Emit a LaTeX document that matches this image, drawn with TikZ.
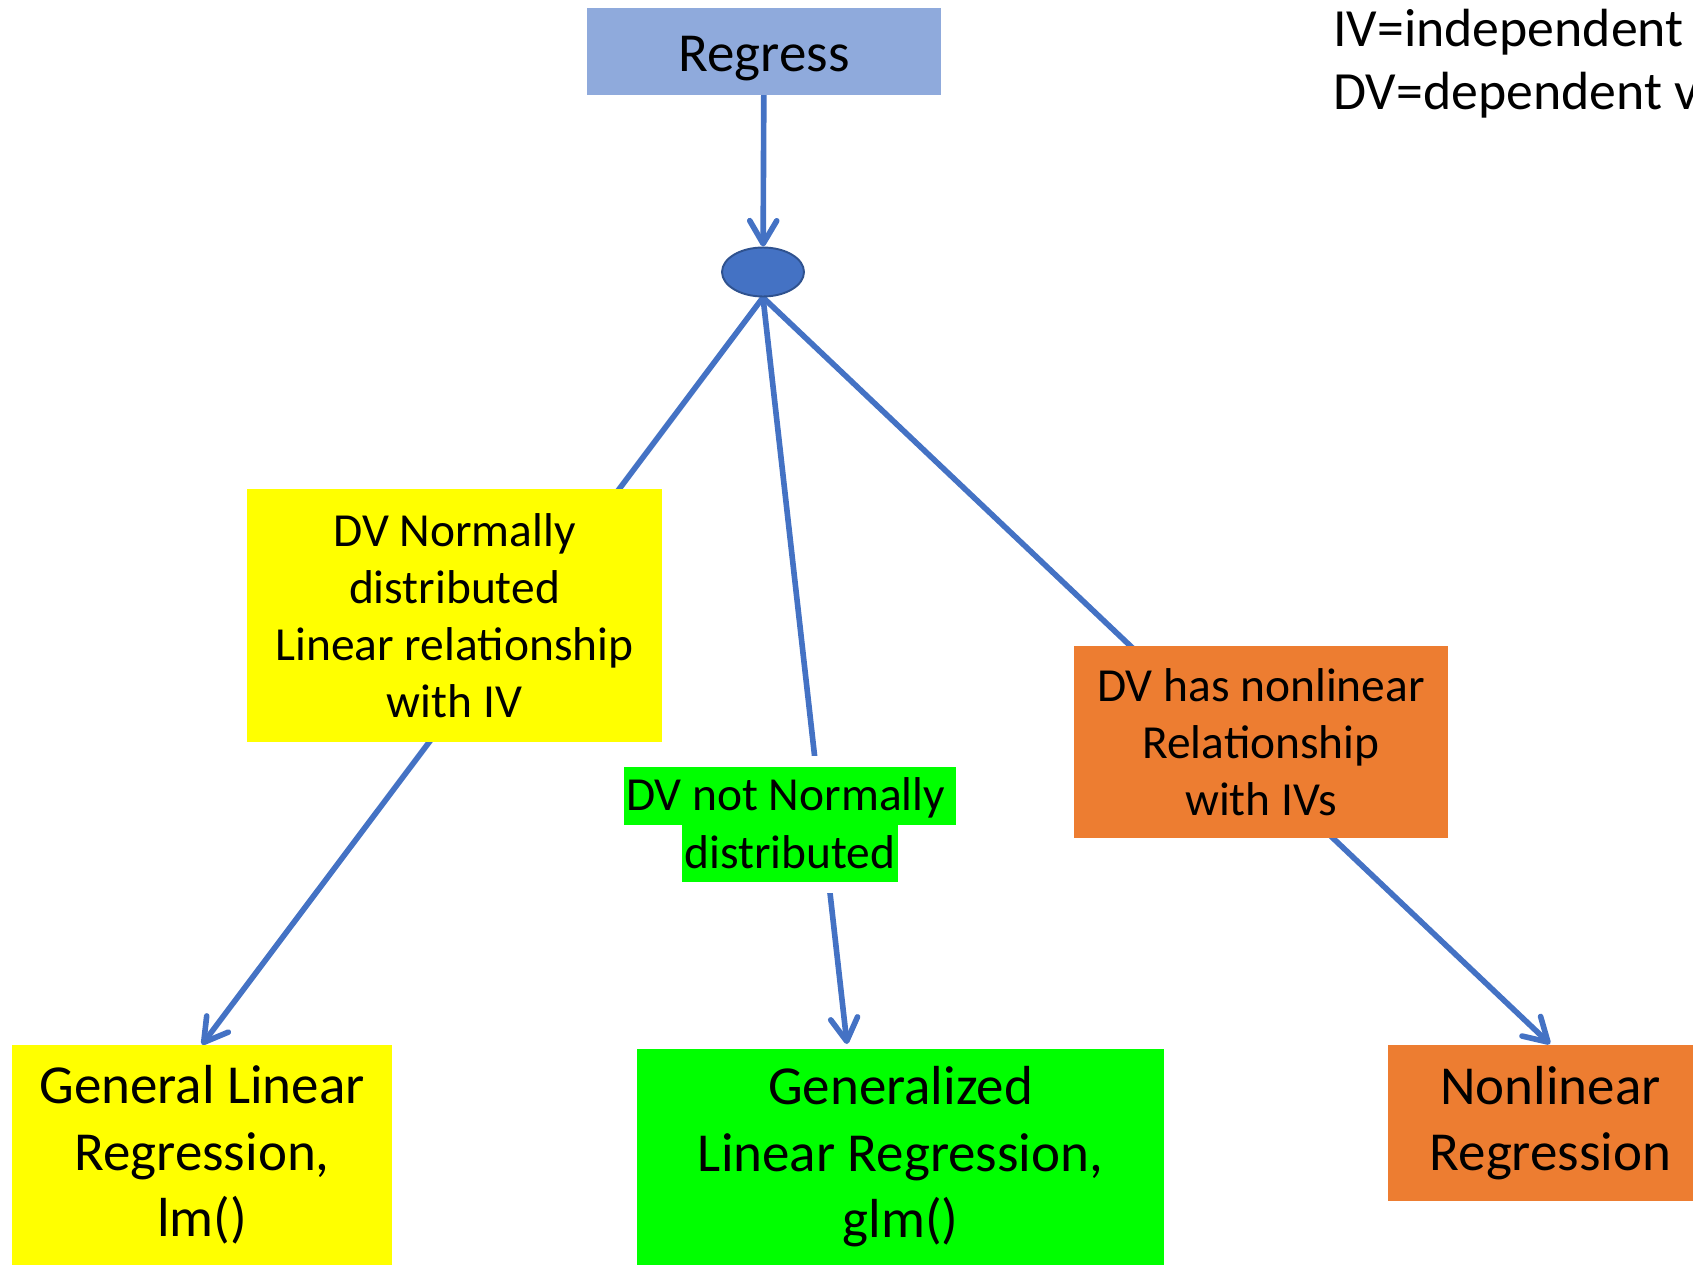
\documentclass[tikz,border=0pt]{standalone}
\usepackage{fontspec}
\setmainfont{Carlito}
\usepackage{tikz}
\usetikzlibrary{shapes.geometric,arrows.meta,backgrounds}
\usepackage{xcolor}
\definecolor{RegBlue}{RGB}{143,170,220}
\definecolor{OvalBlue}{RGB}{68,114,196}
\definecolor{OvalEdge}{RGB}{47,82,143}
\definecolor{LinkBlue}{RGB}{68,114,196}
\definecolor{LmYellow}{RGB}{255,255,0}
\definecolor{GlmGreen}{RGB}{0,255,0}
\definecolor{NlOrange}{RGB}{237,125,49}
\setlength{\fboxsep}{0pt}
\newcommand{\glmhl}[1]{\colorbox{GlmGreen}{\rule[-8pt]{0pt}{33pt}\hspace{1.5pt}#1\hspace{1.5pt}}}

\begin{document}
\begin{tikzpicture}[x=0.02cm, y=-0.02cm,
    box/.style={rectangle, inner sep=0pt, align=center, text=black},
    bigtxt/.style={font=\fontsize{31.3}{37.8}\selectfont},
    midtxt/.style={font=\fontsize{27}{32.4}\selectfont},
    link/.style={draw=LinkBlue, line width=3.2pt, line cap=round},
    linkarrow/.style={link, -{Straight Barb[length=0.46cm, width=0.54cm, round]}}]
      \useasboundingbox (0,0) rectangle (1693,1264);
      \clip (0,0) rectangle (1693,1264);
      % Start
      \node[box, bigtxt, fill=RegBlue, minimum width=7.08cm, minimum height=1.74cm, text height=0.9cm, text depth=0.08cm] (reg) at (764,51.5) {Regress};
      \node[ellipse, fill=OvalBlue, draw=OvalEdge, line width=1.1pt, minimum width=1.64cm, minimum height=0.98cm, inner sep=0pt] (split) at (763,272) {};
      % Legend
      \node[anchor=base west, font=\fontsize{30.6}{36}\selectfont, inner sep=0pt] (ivkey) at (1333,47) {IV=independent variable};
      \node[anchor=base west, font=\fontsize{30.6}{36}\selectfont, inner sep=0pt] (dvkey) at (1333,110) {DV=dependent variable};
      % Conditions
      \node[box, midtxt, fill=LmYellow, minimum width=8.3cm, minimum height=5.06cm] (lmcond) at (454.5,615.5) {DV Normally\\distributed\\Linear relationship\\with IV};
      \node[box, midtxt, fill=NlOrange, minimum width=7.48cm, minimum height=3.84cm] (nlcond) at (1261,742) {DV has nonlinear\\Relationship\\with IVs};
      \node[fill=white, inner sep=0.22cm, align=center, font=\fontsize{27}{33}\selectfont] (glmcond) at (790,824.5) {\glmhl{DV not Normally\hspace{5pt}}\\\glmhl{distributed}};
      % Outcomes
      \node[box, bigtxt, fill=LmYellow, minimum width=7.6cm, minimum height=4.4cm] (lm) at (202,1155) {General Linear\\Regression,\\lm()};
      \node[box, bigtxt, fill=GlmGreen, minimum width=10.54cm, minimum height=4.32cm] (glm) at (900.5,1157) {Generalized\\Linear Regression,\\glm()};
      \node[box, bigtxt, fill=NlOrange, minimum width=6.5cm, minimum height=3.12cm] (nl) at (1550.5,1123) {Nonlinear\\Regression};
      \coordinate (glmtip) at (847,1044);
      \coordinate (nltip) at (1550,1044);
      % Connections
      \begin{scope}[on background layer]
        \draw[linkarrow] (reg) -- (split);
        \draw[linkarrow] (split.south) -- (lm.north);
        \draw[linkarrow] (split.south) -- (glmtip);
        \draw[linkarrow] (split.south) -- (nltip);
      \end{scope}
    \end{tikzpicture}
\end{document}
